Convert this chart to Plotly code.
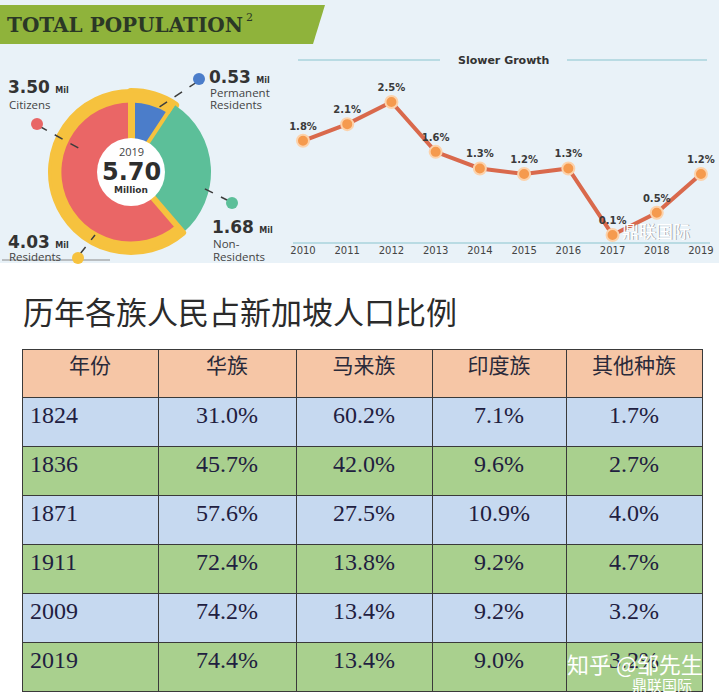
import plotly.graph_objects as go

W, H = 719, 696


def px(x):
    return x / W


def py(y):
    return 1 - y / H


def dom(cx, cy, r):
    return dict(x=[px(cx - r), px(cx + r)], y=[py(cy + r), py(cy - r)])


# ---------------- data ----------------
pop_labels = ["Permanent Residents", "Non-Residents", "Citizens"]
pop_values = [0.53, 1.68, 3.50]
pop_colors = ["#4b7dca", "#5cbf99", "#ea6666"]
residents_total = 4.03
total_pop = 5.70
pop_year = 2019

years = [2010, 2011, 2012, 2013, 2014, 2015, 2016, 2017, 2018, 2019]
growth = [1.8, 2.1, 2.5, 1.6, 1.3, 1.2, 1.3, 0.1, 0.5, 1.2]

table_header = ["年份", "华族", "马来族", "印度族", "其他种族"]
table_years = ["1824", "1836", "1871", "1911", "2009", "2019"]
chinese = ["31.0%", "45.7%", "57.6%", "72.4%", "74.2%", "74.4%"]
malay = ["60.2%", "42.0%", "27.5%", "13.8%", "13.4%", "13.4%"]
indian = ["7.1%", "9.6%", "10.9%", "9.2%", "9.2%", "9.0%"]
others = ["1.7%", "2.7%", "4.0%", "4.7%", "3.2%", "3.2%"]

YELLOW = "#f6c23e"
DARK = "#333333"
NUM_FONT = "DejaVu Sans"
LBL_FONT = "Open Sans"

fig = go.Figure()

# ---------------- donut ----------------
CX, CY = 131, 172
fig.add_trace(go.Pie(
    values=pop_values, labels=pop_labels, sort=False, direction="clockwise", rotation=0,
    marker=dict(colors=pop_colors, line=dict(color=[YELLOW, YELLOW, YELLOW], width=[8, 0, 6])),
    hole=0.3, textinfo="none", hoverinfo="label+value", showlegend=False,
    domain=dom(CX, CY, 80),
))
fig.add_trace(go.Pie(
    values=pop_values, labels=pop_labels, sort=False, direction="clockwise", rotation=0,
    marker=dict(colors=[YELLOW, "rgba(0,0,0,0)", YELLOW], line=dict(width=0)),
    hole=0.87, textinfo="none", hoverinfo="skip", showlegend=False,
    domain=dom(CX, CY, 80),
))
fig.add_trace(go.Pie(
    values=[1], labels=["center"], marker=dict(colors=["#ffffff"], line=dict(width=0)),
    textinfo="none", hoverinfo="skip", showlegend=False, domain=dom(CX, CY, 34),
))

# ---------------- growth line ----------------
fig.add_trace(go.Scatter(
    x=years, y=growth, mode="lines+markers+text",
    text=[f"{v}%" for v in growth], textposition="top center",
    textfont=dict(family=NUM_FONT, size=10, color="#3a3a3a", weight="bold"),
    line=dict(color="#d9694c", width=4),
    marker=dict(size=12, color="#f59a4e", line=dict(color="#fcd2ab", width=2)),
    cliponaxis=False, showlegend=False, hoverinfo="x+y",
))

# ---------------- table ----------------
fig.add_trace(go.Table(
    domain=dict(x=[px(22), px(702)], y=[0, py(349)]),
    columnwidth=[136, 138, 136, 134, 136],
    header=dict(
        values=table_header, height=48, align="center",
        fill_color="#f6c6a6", line=dict(color="#3a3a3a", width=1),
        font=dict(family="Noto Sans CJK SC", size=21, color="#2a2a3a"),
    ),
    cells=dict(
        values=[table_years, chinese, malay, indian, others], height=49,
        align=["left", "center", "center", "center", "center"],
        fill_color=[["#c6d9f0", "#a9d08e"] * 3] * 5,
        line=dict(color="#3a3a3a", width=1),
        font=dict(family="Liberation Serif", size=24, color="#1f2040"),
    ),
))

shapes = [
    # infographic background
    dict(type="rect", xref="paper", yref="paper", x0=0, x1=1, y0=py(263), y1=1,
         fillcolor="#e9f2f8", line=dict(width=0), layer="below"),
    # green banner
    dict(type="path", xref="paper", yref="paper",
         path=f"M 0 {py(5)} L {px(325)} {py(5)} L {px(313)} {py(44)} L 0 {py(44)} Z",
         fillcolor="#8fb33b", line=dict(width=0), layer="below"),
    # Slower Growth rules
    dict(type="line", xref="paper", yref="paper", x0=px(298), x1=px(440), y0=py(60), y1=py(60),
         line=dict(color="#a9d3dd", width=1.5), layer="below"),
    dict(type="line", xref="paper", yref="paper", x0=px(567), x1=px(707), y0=py(60), y1=py(60),
         line=dict(color="#a9d3dd", width=1.5), layer="below"),
    dict(type="line", xref="paper", yref="paper", x0=px(293), x1=px(710), y0=py(243), y1=py(243),
         line=dict(color="#a9d3dd", width=1.5), layer="below"),
    # underline under Residents
    dict(type="line", xref="paper", yref="paper", x0=px(2), x1=px(110), y0=py(260), y1=py(260),
         line=dict(color="#8a8a8a", width=1), layer="below"),
]


def dot(x, y, color, r=6):
    return dict(type="circle", xref="paper", yref="paper", x0=px(x - r), x1=px(x + r),
                y0=py(y + r), y1=py(y - r), fillcolor=color, line=dict(width=0))


def dash(x0, y0, x1, y1):
    return dict(type="line", xref="paper", yref="paper", x0=px(x0), x1=px(x1), y0=py(y0), y1=py(y1),
                line=dict(color="#3d3d3d", width=1.5, dash="dash"))


shapes += [
    dash(39, 126, 82, 150), dot(37, 124, "#e86666"),
    dash(197, 82, 155, 110), dot(199, 79, "#4b7dca"),
    dash(229, 201, 197, 185), dot(232, 203, "#5cbf99"),
    dash(80, 254, 95, 235), dot(78, 258, YELLOW),
]

ann = []


def text(x, y, s, size, color=DARK, family=LBL_FONT, anchor="left", bold=False):
    ann.append(dict(xref="paper", yref="paper", x=px(x), y=py(y), text=s, showarrow=False,
                    xanchor=anchor, yanchor="middle",
                    font=dict(family=family, size=size, color=color,
                              weight="bold" if bold else "normal")))


def mil(v):
    return f"<b>{v:.2f}</b> <span style='font-size:8px'><b>Mil</b></span>"


text(5, 25, "<b>TOTAL POPULATION</b>", 20, "#2b3826", "DejaVu Serif")
text(244, 18, "2", 11, "#2b3826", "DejaVu Serif")

text(6, 87, mil(pop_values[2]), 17, family=NUM_FONT)
text(7, 104, pop_labels[2], 11.5, "#444")
text(207, 77, mil(pop_values[0]), 17, family=NUM_FONT)
text(208, 92, "Permanent", 11.5, "#444")
text(208, 104, "Residents", 11.5, "#444")
text(210, 227, mil(pop_values[1]), 17, family=NUM_FONT)
text(211, 243, "Non-", 11.5, "#444")
text(211, 256, "Residents", 11.5, "#444")
text(6, 242, mil(residents_total), 17, family=NUM_FONT)
text(7, 256, "Residents", 11.5, "#444")

text(CX, 151, str(pop_year), 11, "#444", anchor="center")
text(CX, 172, f"<b>{total_pop:.2f}</b>", 24, "#2e2e2e", NUM_FONT, anchor="center")
text(CX, 190, "<b>Million</b>", 9, "#333", NUM_FONT, anchor="center")

text(503, 60, "<b>Slower Growth</b>", 11, "#333", NUM_FONT, anchor="center")

text(21, 310, "历年各族人民占新加坡人口比例", 31, "#2b2b2b", "Noto Sans CJK SC")

# watermarks
text(657, 231, "鼎联国际", 17, "rgba(120,120,120,0.6)", "Noto Sans CJK SC", anchor="center")
text(656, 230, "鼎联国际", 17, "#ffffff", "Noto Sans CJK SC", anchor="center")
text(635, 663, "知乎 @邹先生", 22, "#ffffff", "Noto Sans CJK SC", anchor="center")
text(662, 684, "鼎联国际", 15, "#ffffff", "Noto Sans CJK SC", anchor="center")

fig.update_layout(
    width=W, height=H, autosize=False,
    margin=dict(l=0, r=0, t=0, b=0),
    paper_bgcolor="#ffffff", plot_bgcolor="rgba(0,0,0,0)",
    shapes=shapes, annotations=ann, showlegend=False,
    xaxis=dict(domain=[px(285), px(715)], range=[2009.593, 2019.317], showgrid=False,
               zeroline=False, showline=False, tickmode="array", tickvals=years,
               ticks="", tickfont=dict(family=NUM_FONT, size=10, color="#444"),
               fixedrange=True),
    yaxis=dict(domain=[py(243), py(74.3)], range=[-0.045, 3], visible=False, fixedrange=True),
)

fig.write_html("out.html", config={"displayModeBar": False},
               post_script="document.body.style.margin='0';document.body.style.overflow='hidden';")
